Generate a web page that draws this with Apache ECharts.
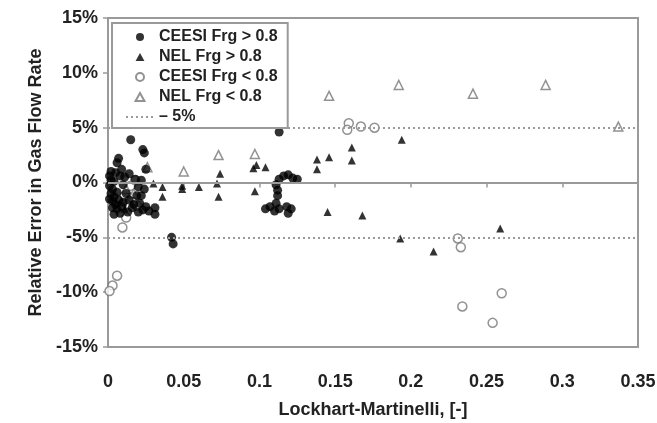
<!DOCTYPE html>
<html>
<head>
<meta charset="utf-8">
<script src="https://cdn.jsdelivr.net/npm/echarts@6/dist/echarts.min.js"></script>
<style>
  html, body { margin: 0; padding: 0; background: #fff; }
  #chart { width: 657px; height: 423px; }
</style>
</head>
<body>
<div id="chart"></div>
<script>
// data: [Lockhart-Martinelli, relative error %]
const ceesiHigh = [
  [0.001, 0.6], [0.002, 0.2], [0.001, -0.3], [0.003, -0.6], [0.002, -1.0], [0.004, -1.3],
  [0.003, -1.7], [0.005, -2.0], [0.006, -2.4], [0.008, -2.8], [0.001, -1.5], [0.004, 0.1],
  [0.006, -0.9], [0.007, -1.6], [0.009, -2.2], [0.005, 0.9], [0.007, 2.2], [0.006, 1.8],
  [0.009, 1.2], [0.011, 0.5], [0.010, -0.2], [0.012, -1.0], [0.014, -1.6], [0.016, -2.3],
  [0.013, -2.7], [0.015, 3.9], [0.023, 3.0], [0.024, 2.7], [0.018, 0.3], [0.020, -0.4],
  [0.022, 0.2], [0.024, -0.6], [0.019, -1.2], [0.021, -1.9], [0.023, -2.5], [0.025, -2.2],
  [0.025, 1.2], [0.027, -2.6], [0.031, -2.3], [0.031, -2.9], [0.042, -5.0], [0.043, -5.6],
  [0.002, 1.0], [0.003, -2.3], [0.004, -2.9], [0.008, 0.6], [0.010, -1.8], [0.017, -2.0],
  [0.020, -2.7], [0.022, -1.2], [0.014, 0.8],
  [0.113, 4.6], [0.111, -0.2], [0.113, 0.3], [0.116, 0.6], [0.119, 0.7], [0.122, 0.4],
  [0.125, 0.3], [0.112, -0.7], [0.112, -1.2], [0.107, -2.2], [0.110, -2.6], [0.113, -2.4],
  [0.118, -2.2], [0.121, -2.4], [0.119, -2.8], [0.111, -1.9], [0.104, -2.4]
];
const nelHigh = [
  [0.011, -2.4], [0.030, -0.1], [0.036, -0.4], [0.036, -1.3], [0.049, -0.3], [0.049, -0.6],
  [0.060, -0.4], [0.072, -0.1], [0.074, 0.8], [0.073, -1.3], [0.096, 1.3], [0.098, 1.6],
  [0.104, 1.4], [0.097, -0.8], [0.138, 2.1], [0.138, 1.2], [0.146, 2.3], [0.145, -2.7],
  [0.161, 3.2], [0.161, 2.0], [0.194, 3.9], [0.168, -3.0], [0.193, -5.1], [0.215, -6.3],
  [0.259, -4.2]
];
const ceesiLow = [
  [0.0095, -4.1], [0.012, -3.2], [0.009, -2.1], [0.011, -1.2], [0.015, -0.3], [0.018, 0.2],
  [0.019, -2.1], [0.016, -1.4], [0.006, -8.5], [0.003, -9.4], [0.001, -9.9],
  [0.159, 5.4], [0.158, 4.8], [0.167, 5.1], [0.176, 5.0], [0.231, -5.1], [0.233, -5.9],
  [0.260, -10.1], [0.234, -11.3], [0.254, -12.8]
];
const nelLow = [
  [0.012, -0.6], [0.017, -1.0], [0.026, 1.4], [0.050, 1.0], [0.073, 2.5], [0.097, 2.6],
  [0.146, 7.9], [0.192, 8.9], [0.241, 8.1], [0.289, 8.9], [0.337, 5.1]
];
const limitLines = [5, -5];
const seriesNames = ['CEESI Frg > 0.8', 'NEL Frg > 0.8', 'CEESI Frg < 0.8', 'NEL Frg < 0.8', '\u2013 5%'];

const gray = '#9a9a9a';
const font = 'Liberation Sans, Arial, sans-serif';
// triangle as a path so the legend keeps its shape
const triPath = 'path://M5,0 L10,9 L0,9 Z';

const chart = echarts.init(document.getElementById('chart'));
chart.setOption({
  animation: false,
  grid: {
    left: 108, right: 19, top: 18, bottom: 76,
    outerBoundsMode: 'none',
    show: true, borderColor: gray, borderWidth: 2
  },
  legend: {
    orient: 'vertical',
    left: 112, top: 23,
    data: [
      { name: seriesNames[0], icon: 'circle' },
      { name: seriesNames[1], icon: triPath },
      { name: seriesNames[2], icon: 'circle' },
      { name: seriesNames[3], icon: triPath },
      { name: seriesNames[4], itemStyle: { opacity: 0 } }
    ],
    symbolKeepAspect: true,
    backgroundColor: '#fff',
    borderColor: gray, borderWidth: 2,
    padding: [6, 10, 3, 13],
    itemGap: 4,
    itemWidth: 28, itemHeight: 8,
    textStyle: { fontFamily: font, fontWeight: 'bold', fontSize: 16, color: '#222' }
  },
  xAxis: {
    type: 'value', min: 0, max: 0.35, interval: 0.05,
    name: 'Lockhart-Martinelli, [-]', nameLocation: 'middle', nameGap: 54,
    nameTextStyle: { fontFamily: font, fontWeight: 'bold', fontSize: 18, color: '#222' },
    axisLine: { lineStyle: { color: gray, width: 2 } },
    axisTick: { length: 5, lineStyle: { color: gray, width: 1.5 } },
    axisLabel: { margin: 26, fontFamily: font, fontWeight: 'bold', fontSize: 18, color: '#222',
      formatter: v => String(+v.toFixed(2)) },
    splitLine: { show: false }
  },
  yAxis: {
    type: 'value', min: -15, max: 15, interval: 5,
    name: 'Relative Error in Gas Flow Rate', nameLocation: 'middle', nameGap: 62,
    nameTextStyle: { fontFamily: font, fontWeight: 'bold', fontSize: 18, color: '#222' },
    axisLine: { lineStyle: { color: gray, width: 2 } },
    axisTick: { length: 5, lineStyle: { color: gray, width: 1.5 } },
    axisLabel: { margin: 10, fontFamily: font, fontWeight: 'bold', fontSize: 18, color: '#222',
      formatter: v => v + '%' },
    splitLine: { show: false }
  },
  series: [
    {
      name: seriesNames[4], type: 'line', data: [], symbol: 'none',
      color: gray,
      lineStyle: { color: gray, width: 2, type: [2, 3] },
      markLine: {
        silent: true, symbol: 'none', label: { show: false },
        lineStyle: { color: gray, width: 2, type: [2, 3] },
        data: limitLines.map(v => ({ yAxis: v })).concat([
          { yAxis: 0, lineStyle: { color: gray, width: 2, type: 'solid' } }
        ])
      }
    },
    {
      name: seriesNames[2], type: 'scatter', data: ceesiLow, symbol: 'circle', symbolSize: 9,
      itemStyle: { color: '#fff', borderColor: '#777', borderWidth: 1.5 }
    },
    {
      name: seriesNames[3], type: 'scatter', data: nelLow, symbol: 'triangle', symbolSize: 9,
      itemStyle: { color: '#fff', borderColor: '#777', borderWidth: 1.5 }
    },
    {
      name: seriesNames[1], type: 'scatter', data: nelHigh, symbol: 'triangle', symbolSize: 8,
      itemStyle: { color: '#000' }
    },
    {
      name: seriesNames[0], type: 'scatter', data: ceesiHigh, symbol: 'circle', symbolSize: 9,
      itemStyle: { color: '#000' }
    }
  ]
});
</script>
</body>
</html>
